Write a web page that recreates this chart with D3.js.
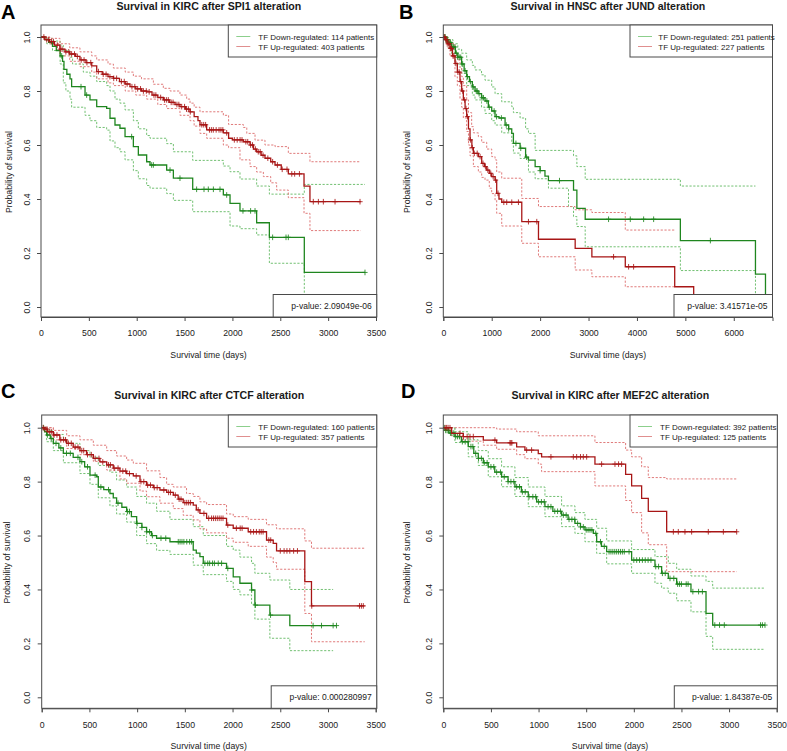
<!DOCTYPE html>
<html><head><meta charset="utf-8">
<script src="https://cdn.jsdelivr.net/npm/d3@7"></script>
<style>
body{margin:0;background:#fff;}
svg{display:block;font-family:"Liberation Sans",Arial,sans-serif;}
</style></head><body>
<svg id="chart" width="787" height="751"></svg>
<script>
// ---------------- DATA ----------------
const panelLetters = ["A", "B", "C", "D"];
const titles = [
  "Survival in KIRC after SPI1 alteration",
  "Survival in HNSC after JUND alteration",
  "Survival in KIRC after CTCF alteration",
  "Survival in KIRC after MEF2C alteration"
];
const legendDown = ["TF Down-regulated: 114 patients", "TF Down-regulated: 251 patients", "TF Down-regulated: 160 patients", "TF Down-regulated: 392 patients"];
const legendUp = ["TF Up-regulated: 403 patients", "TF Up-regulated: 227 patients", "TF Up-regulated: 357 patients", "TF Up-regulated: 125 patients"];
const pValues = ["p-value: 2.09049e-06", "p-value: 3.41571e-05", "p-value: 0.000280997", "p-value: 1.84387e-05"];
const xTicks3500 = [0, 500, 1000, 1500, 2000, 2500, 3000, 3500];
const xTicks6000 = [0, 1000, 2000, 3000, 4000, 5000, 6000];
const yTicks = [0, 0.2, 0.4, 0.6, 0.8, 1.0];
const yAxisTitle = "Probability of survival";
const xAxisTitle = "Survival time (days)";

// Step curves: [time (days), survival probability from that time on]
// Panel A: KIRC / SPI1
const A_downEst = [[0,1],[40,0.99],[80,0.98],[120,0.965],[160,0.95],[200,0.93],[225,0.91],[240,0.88],[270,0.862],[303,0.845],[320,0.816],[460,0.785],[512,0.767],[582,0.742],[686,0.736],[721,0.699],[773,0.674],[825,0.662],[878,0.631],[965,0.594],[1017,0.563],[1104,0.538],[1139,0.526],[1313,0.507],[1383,0.477],[1585,0.436],[1905,0.415],[1975,0.384],[2079,0.356],[2253,0.312],[2386,0.258],[2751,0.128],[3385,0.128]];
const A_downUp = [[0,1],[60,0.995],[120,0.985],[200,0.97],[233,0.95],[300,0.925],[330,0.9],[442,0.87],[512,0.855],[582,0.835],[686,0.82],[721,0.8],[773,0.77],[825,0.755],[878,0.73],[965,0.69],[1017,0.66],[1104,0.635],[1139,0.625],[1313,0.605],[1383,0.575],[1585,0.543],[1905,0.522],[1975,0.501],[2079,0.474],[2253,0.448],[2386,0.418],[2751,0.454],[3385,0.454]];
const A_downLo = [[0,1],[60,0.975],[120,0.95],[200,0.9],[233,0.83],[260,0.8],[303,0.77],[320,0.74],[460,0.71],[512,0.69],[582,0.665],[686,0.655],[721,0.615],[773,0.59],[825,0.575],[878,0.545],[965,0.505],[1017,0.475],[1104,0.45],[1139,0.44],[1313,0.42],[1383,0.395],[1585,0.353],[1975,0.3],[2079,0.29],[2253,0.267],[2386,0.162],[2751,0.02],[3385,0.02]];
const A_downCens = [216,418,477,947,1156,1174,1348,1452,1626,1703,1748,1801,1870,1940,2110,2190,2236,2420,2560,2584,3385];
const A_upEst = [[0,1],[40,0.99],[90,0.983],[140,0.97],[198,0.955],[250,0.945],[300,0.937],[360,0.928],[407,0.915],[470,0.905],[530,0.893],[582,0.872],[640,0.862],[700,0.853],[756,0.847],[820,0.835],[880,0.826],[930,0.816],[990,0.808],[1050,0.8],[1104,0.797],[1160,0.785],[1220,0.776],[1278,0.767],[1340,0.758],[1400,0.75],[1452,0.742],[1510,0.733],[1557,0.723],[1600,0.705],[1640,0.69],[1661,0.675],[1731,0.656],[1905,0.645],[1960,0.625],[2000,0.619],[2114,0.612],[2184,0.6],[2220,0.585],[2253,0.575],[2300,0.562],[2340,0.551],[2400,0.538],[2445,0.526],[2510,0.51],[2584,0.493],[2748,0.448],[2810,0.39],[3340,0.39]];
const A_upUp = [[0,1],[90,0.995],[198,0.975],[300,0.96],[407,0.945],[530,0.93],[582,0.915],[700,0.9],[756,0.885],[880,0.87],[965,0.855],[1050,0.845],[1174,0.825],[1278,0.81],[1348,0.8],[1452,0.785],[1522,0.77],[1557,0.755],[1600,0.74],[1661,0.723],[1905,0.71],[1960,0.676],[2114,0.665],[2150,0.643],[2236,0.618],[2340,0.6],[2445,0.594],[2584,0.569],[2810,0.538],[3340,0.538]];
const A_upLo = [[0,1],[90,0.975],[198,0.93],[300,0.91],[407,0.89],[530,0.87],[582,0.845],[700,0.83],[756,0.82],[880,0.8],[990,0.785],[1104,0.77],[1220,0.75],[1313,0.735],[1452,0.71],[1557,0.69],[1600,0.67],[1661,0.643],[1731,0.625],[1905,0.6],[1960,0.59],[2079,0.545],[2184,0.52],[2253,0.5],[2323,0.483],[2400,0.46],[2462,0.433],[2584,0.405],[2748,0.347],[2810,0.283],[3340,0.283]];
const A_upCens = [30,60,80,110,130,170,200,220,260,290,320,350,380,420,450,480,520,600,650,680,720,760,790,840,870,900,950,980,1010,1040,1070,1100,1130,1180,1200,1250,1290,1310,1330,1360,1380,1420,1440,1470,1500,1520,1540,1560,1680,1700,1720,1760,1780,1800,1830,1860,1880,1900,1940,2020,2050,2080,2100,2140,2160,2190,2210,2240,2270,2290,2320,2370,2420,2470,2520,2570,2620,2650,2700,2845,2898,2950,3072,3333];

// Panel B: HNSC / JUND
const B_downEst = [[0,1],[50,0.99],[100,0.98],[172,0.963],[250,0.94],[300,0.925],[379,0.9],[430,0.875],[483,0.853],[540,0.835],[600,0.815],[655,0.8],[720,0.79],[790,0.775],[862,0.763],[930,0.74],[1000,0.726],[1069,0.705],[1150,0.7],[1276,0.674],[1350,0.66],[1414,0.643],[1448,0.606],[1586,0.588],[1700,0.555],[1759,0.544],[1897,0.52],[2000,0.505],[2100,0.485],[2172,0.468],[2690,0.433],[2759,0.365],[2931,0.325],[4897,0.246],[6448,0.122],[6655,0]];
const B_downUp = [[0,1],[100,0.99],[200,0.975],[300,0.955],[379,0.94],[483,0.915],[600,0.895],[655,0.878],[790,0.86],[862,0.84],[1000,0.815],[1069,0.79],[1207,0.76],[1414,0.742],[1448,0.72],[1586,0.7],[1700,0.66],[1759,0.643],[1897,0.58],[2690,0.56],[2759,0.52],[2931,0.473],[4897,0.448],[6448,0.448]];
const B_downLo = [[0,1],[50,0.98],[100,0.96],[172,0.93],[250,0.9],[379,0.865],[483,0.82],[600,0.785],[655,0.767],[790,0.74],[862,0.717],[1000,0.69],[1069,0.674],[1207,0.645],[1414,0.606],[1448,0.57],[1586,0.55],[1759,0.5],[1897,0.475],[2172,0.44],[2586,0.372],[2690,0.335],[2759,0.298],[2931,0.223],[4897,0.135],[6448,0.01],[6655,0.01]];
const B_downCens = [20,40,60,90,120,150,180,210,240,270,300,330,360,400,450,500,560,620,680,700,740,800,830,900,950,1050,1100,1200,1300,1350,1500,1600,1720,2000,2400,3414,3862,4138,4345,5517];
const B_upEst = [[0,1],[40,0.99],[80,0.975],[138,0.958],[190,0.93],[241,0.902],[290,0.87],[345,0.835],[380,0.8],[414,0.767],[450,0.735],[483,0.705],[520,0.66],[552,0.619],[590,0.59],[621,0.569],[724,0.557],[793,0.532],[850,0.52],[897,0.507],[950,0.495],[1000,0.483],[1069,0.47],[1103,0.421],[1150,0.4],[1207,0.388],[1621,0.316],[1966,0.251],[2724,0.217],[3069,0.186],[3759,0.149],[4780,0.075],[5172,0]];
const B_upUp = [[0,1],[80,0.99],[138,0.975],[241,0.94],[290,0.915],[345,0.885],[380,0.853],[414,0.82],[483,0.767],[520,0.72],[586,0.668],[621,0.645],[724,0.631],[793,0.61],[897,0.585],[1000,0.557],[1069,0.545],[1103,0.5],[1207,0.477],[1621,0.402],[1966,0.372],[2724,0.36],[3069,0.35],[3759,0.285],[4780,0.285]];
const B_upLo = [[0,1],[80,0.96],[138,0.93],[241,0.853],[290,0.82],[345,0.77],[379,0.74],[414,0.7],[483,0.65],[520,0.6],[552,0.56],[621,0.52],[724,0.5],[793,0.48],[862,0.47],[950,0.44],[1000,0.42],[1069,0.396],[1103,0.347],[1207,0.3],[1621,0.236],[1966,0.186],[2724,0.137],[3069,0.112],[3759,0.075],[4780,0.075]];
const B_upCens = [10,30,50,70,100,120,150,170,200,220,260,300,330,360,400,440,470,500,560,600,640,700,760,820,870,920,980,1030,1080,1130,1250,1310,1414,1552,1759,1931,3517,3828,3931];

// Panel C: KIRC / CTCF
const C_downEst = [[0,1],[30,0.985],[52,0.973],[90,0.96],[122,0.942],[180,0.925],[227,0.905],[330,0.89],[401,0.874],[450,0.855],[506,0.824],[576,0.818],[593,0.78],[650,0.77],[715,0.756],[750,0.74],[785,0.72],[840,0.705],[890,0.689],[940,0.67],[995,0.645],[1050,0.63],[1099,0.614],[1150,0.6],[1204,0.59],[1344,0.577],[1588,0.546],[1620,0.535],[1658,0.522],[1693,0.497],[1937,0.478],[2007,0.447],[2077,0.423],[2199,0.398],[2234,0.342],[2391,0.305],[2600,0.266],[3089,0.266]];
const C_downUp = [[0,1],[52,0.99],[122,0.975],[227,0.955],[262,0.942],[401,0.915],[506,0.89],[593,0.86],[715,0.835],[785,0.806],[890,0.78],[995,0.745],[1099,0.72],[1204,0.69],[1344,0.66],[1588,0.633],[1693,0.6],[1937,0.56],[2007,0.546],[2077,0.52],[2199,0.497],[2234,0.46],[2391,0.435],[2600,0.4],[3054,0.4]];
const C_downLo = [[0,1],[52,0.948],[122,0.915],[227,0.87],[401,0.83],[506,0.79],[593,0.74],[715,0.71],[785,0.68],[890,0.65],[995,0.6],[1099,0.57],[1204,0.545],[1344,0.53],[1588,0.49],[1693,0.455],[1937,0.43],[2007,0.4],[2077,0.38],[2199,0.345],[2234,0.29],[2391,0.219],[2600,0.173],[3054,0.173]];
const C_downCens = [20,60,100,150,200,260,300,380,420,480,560,620,700,800,900,920,1000,1050,1100,1130,1160,1250,1300,1431,1450,1470,1490,1520,1550,1571,1710,1740,1760,1790,1810,1850,1885,1950,2200,2240,2398,2844,2932,3054,3089];
const C_upEst = [[0,1],[30,0.995],[60,0.985],[122,0.973],[190,0.955],[262,0.942],[330,0.928],[401,0.915],[470,0.9],[541,0.886],[610,0.873],[681,0.862],[750,0.85],[820,0.839],[890,0.83],[960,0.821],[1030,0.8],[1099,0.787],[1170,0.778],[1239,0.769],[1310,0.76],[1379,0.75],[1430,0.735],[1483,0.722],[1588,0.713],[1620,0.695],[1658,0.682],[1728,0.664],[1937,0.639],[2007,0.627],[2164,0.614],[2356,0.583],[2426,0.571],[2461,0.543],[2757,0.429],[2827,0.339],[3385,0.339]];
const C_upUp = [[0,1],[122,0.99],[262,0.97],[401,0.955],[541,0.935],[681,0.915],[785,0.895],[890,0.88],[960,0.868],[1099,0.84],[1239,0.815],[1309,0.79],[1379,0.78],[1518,0.756],[1588,0.745],[1658,0.725],[1728,0.715],[1937,0.68],[2007,0.67],[2164,0.66],[2356,0.64],[2461,0.625],[2757,0.58],[2827,0.553],[3385,0.553]];
const C_upLo = [[0,1],[122,0.955],[262,0.923],[401,0.9],[541,0.875],[681,0.843],[820,0.81],[890,0.794],[1030,0.765],[1099,0.744],[1239,0.72],[1379,0.7],[1483,0.675],[1588,0.658],[1658,0.625],[1728,0.61],[1937,0.59],[2007,0.575],[2164,0.56],[2356,0.52],[2426,0.5],[2461,0.475],[2757,0.311],[2827,0.206],[3385,0.206]];
const C_upCens = [15,35,55,80,100,130,160,200,230,250,280,310,350,380,420,440,480,520,560,600,640,700,720,760,800,850,880,920,990,1040,1070,1110,1140,1180,1210,1280,1330,1350,1400,1440,1460,1500,1520,1540,1560,1640,1700,1750,1780,1800,1820,1840,1860,1880,1900,1950,2040,2080,2100,2190,2220,2250,2280,2300,2320,2380,2400,2500,2540,2570,2600,2640,2680,2830,3330,3350,3370];

// Panel D: KIRC / MEF2C
const D_downEst = [[0,1],[20,0.99],[60,0.98],[122,0.967],[190,0.948],[262,0.93],[320,0.905],[367,0.886],[420,0.87],[472,0.855],[540,0.835],[612,0.818],[680,0.8],[752,0.781],[820,0.762],[892,0.744],[980,0.725],[1067,0.707],[1150,0.69],[1242,0.676],[1310,0.66],[1382,0.645],[1440,0.632],[1487,0.621],[1575,0.608],[1610,0.577],[1660,0.56],[1715,0.54],[1977,0.509],[2222,0.485],[2292,0.46],[2362,0.441],[2450,0.42],[2600,0.392],[2758,0.311],[2828,0.268],[3377,0.268]];
const D_downUp = [[0,1],[122,0.985],[262,0.955],[367,0.915],[472,0.885],[612,0.855],[752,0.815],[892,0.78],[1067,0.745],[1242,0.71],[1382,0.685],[1487,0.66],[1610,0.627],[1715,0.58],[1977,0.548],[2222,0.522],[2362,0.497],[2450,0.475],[2600,0.45],[2758,0.43],[2828,0.405],[3377,0.405]];
const D_downLo = [[0,1],[122,0.945],[262,0.892],[367,0.86],[472,0.818],[612,0.781],[752,0.745],[892,0.707],[1067,0.67],[1242,0.633],[1382,0.608],[1487,0.577],[1610,0.534],[1715,0.495],[1977,0.46],[2222,0.423],[2292,0.405],[2362,0.386],[2450,0.358],[2600,0.317],[2758,0.226],[2828,0.178],[3377,0.178]];
const D_downCens = [10,25,40,55,75,90,110,130,150,170,200,230,260,290,310,340,370,400,430,460,500,530,560,600,640,680,710,740,770,800,830,860,900,940,970,1000,1030,1060,1100,1130,1170,1200,1230,1260,1290,1320,1350,1380,1410,1440,1470,1500,1520,1540,1560,1600,1650,1690,1740,1760,1780,1800,1820,1840,1860,1880,1900,1950,2000,2030,2060,2090,2120,2150,2180,2230,2260,2300,2330,2380,2420,2460,2480,2500,2550,2570,2620,2680,2720,2850,2900,2950,3330,3350,3377];
const D_upEst = [[0,1],[87,0.979],[210,0.967],[420,0.954],[560,0.944],[770,0.929],[857,0.917],[997,0.904],[1032,0.892],[1592,0.865],[1914,0.827],[1977,0.784],[2082,0.738],[2152,0.69],[2345,0.614],[3080,0.614]];
const D_upUp = [[0,1],[560,0.995],[770,0.985],[997,0.97],[1592,0.945],[1914,0.917],[1977,0.892],[2082,0.855],[2152,0.815],[2345,0.81],[3080,0.81]];
const D_upLo = [[0,1],[87,0.97],[210,0.95],[420,0.935],[560,0.92],[770,0.9],[857,0.885],[997,0.865],[1032,0.837],[1592,0.784],[1914,0.73],[1977,0.685],[2082,0.61],[2152,0.566],[2345,0.466],[3080,0.466]];
const D_upCens = [20,35,50,70,175,210,250,280,315,542,700,710,720,875,927,1130,1365,1400,1440,1470,1505,1662,1802,1840,1872,2415,2467,2537,2607,2782,2940,3080];

// ---------------- LAYOUT ----------------
const panels = [
  {box:[41, 376.7, 25, 317], yr:[307, 37], xr:[41, 376], xmax:3500, ticks:xTicks3500, letter:[1, 19], titleY:9.5, ylabX:11.5, lw:148.4, lt:30, pw:103.5,
   down:[A_downEst, A_downUp, A_downLo, A_downCens], up:[A_upEst, A_upUp, A_upLo, A_upCens]},
  {box:[443.3, 772.5, 25, 317], yr:[307, 37], xr:[443.3, 772.5], xmax:6800, ticks:xTicks6000, letter:[399, 19], titleY:9.5, ylabX:409.8, lw:142.5, lt:28.3, pw:98.5,
   down:[B_downEst, B_downUp, B_downLo, B_downCens], up:[B_upEst, B_upUp, B_upLo, B_upCens]},
  {box:[41.7, 376.7, 415, 708.3], yr:[697.3, 427.7], xr:[41.7, 375.7], xmax:3500, ticks:xTicks3500, letter:[1, 398], titleY:398.5, ylabX:9.5, lw:148.4, lt:30, pw:105.5,
   down:[C_downEst, C_downUp, C_downLo, C_downCens], up:[C_upEst, C_upUp, C_upLo, C_upCens]},
  {box:[443.3, 777.3, 415, 708.3], yr:[697.3, 427.7], xr:[443.3, 776.7], xmax:3500, ticks:xTicks3500, letter:[401, 398], titleY:398.5, ylabX:409.5, lw:147.3, lt:30, pw:103,
   down:[D_downEst, D_downUp, D_downLo, D_downCens], up:[D_upEst, D_upUp, D_upLo, D_upCens]}
];

const COL = {
  downEst: "#1f861f", downCI: "#72c072", downLeg: "#8ccf8c",
  upEst: "#a81616", upCI: "#e07b7b", upLeg: "#e08f8f",
  axis: "#4a4a4a", text: "#1a1a1a"
};

const svg = d3.select("#chart");
const bis = d3.bisector(d => d[0]).right;
function stepValue(steps, t) {
  const i = bis(steps, t) - 1;
  return steps[Math.max(0, i)][1];
}

panels.forEach((p, k) => {
  const [bl, br, bt, bb] = p.box;
  const x = d3.scaleLinear().domain([0, p.xmax]).range(p.xr);
  const y = d3.scaleLinear().domain([0, 1]).range(p.yr);
  const g = svg.append("g");

  const clipId = "clip" + k;
  svg.append("clipPath").attr("id", clipId)
    .append("rect").attr("x", bl).attr("y", bt).attr("width", br - bl).attr("height", bb - bt);

  // letter & title
  g.append("text").attr("x", p.letter[0]).attr("y", p.letter[1])
    .attr("font-family", "'Liberation Sans', Arial, sans-serif").attr("font-weight", 700)
    .attr("font-size", 20).attr("fill", "#000").text(panelLetters[k]);
  g.append("text").attr("x", (bl + br) / 2).attr("y", p.titleY).attr("text-anchor", "middle")
    .attr("font-weight", 700).attr("font-size", 10.6).attr("fill", COL.text).text(titles[k]);

  // axes
  const xa = g.append("g").attr("transform", `translate(0,${bb})`)
    .call(d3.axisBottom(x).tickValues(p.ticks).tickSize(4).tickFormat(d3.format("d")));
  xa.select(".domain").attr("stroke", COL.axis);
  xa.selectAll(".tick line").attr("stroke", COL.axis);
  xa.selectAll("text").attr("y", 19.3).attr("dy", 0).attr("font-size", 8.7).attr("fill", COL.text)
    .attr("font-family", "'Liberation Sans', Arial, sans-serif");

  const ya = g.append("g").attr("transform", `translate(${bl},0)`)
    .call(d3.axisLeft(y).tickValues(yTicks).tickSize(4).tickFormat(d3.format(".1f")));
  ya.select(".domain").remove();
  ya.selectAll(".tick line").attr("stroke", COL.axis);
  ya.selectAll("text").attr("x", 0).attr("dy", 0).attr("text-anchor", "middle")
    .attr("transform", "translate(-11.3,0) rotate(-90)")
    .attr("font-size", 8.7).attr("fill", COL.text)
    .attr("font-family", "'Liberation Sans', Arial, sans-serif");

  g.append("text").attr("transform", `translate(${p.ylabX},${(p.yr[0] + p.yr[1]) / 2}) rotate(-90)`)
    .attr("text-anchor", "middle").attr("font-size", 8.7).attr("fill", COL.text).text(yAxisTitle);
  g.append("text").attr("x", (p.xr[0] + p.xr[1]) / 2).attr("y", bb + 40.5)
    .attr("text-anchor", "middle").attr("font-size", 8.7).attr("fill", COL.text).text(xAxisTitle);

  // curves
  const line = d3.line().x(d => x(d[0])).y(d => y(d[1])).curve(d3.curveStepAfter);
  const cg = g.append("g").attr("clip-path", `url(#${clipId})`);
  const groups = [
    {d: p.down, est: COL.downEst, ci: COL.downCI},
    {d: p.up, est: COL.upEst, ci: COL.upCI}
  ];
  groups.forEach(gr => {
    [gr.d[1], gr.d[2]].forEach(ci => {
      cg.append("path").attr("d", line(ci)).attr("fill", "none")
        .attr("stroke", gr.ci).attr("stroke-width", 1).attr("stroke-dasharray", "2.2,1.6");
    });
  });
  groups.forEach(gr => {
    cg.append("path").attr("d", line(gr.d[0])).attr("fill", "none")
      .attr("stroke", gr.est).attr("stroke-width", 1.3);
    const cens = gr.d[3];
    cg.append("path").attr("fill", "none").attr("stroke", gr.est).attr("stroke-width", 1)
      .attr("stroke-opacity", 0.85)
      .attr("d", cens.map(t => {
        const cx = x(t), cy = y(stepValue(gr.d[0], t));
        return `M${cx - 2.6},${cy}h5.2M${cx},${cy - 2.8}v5.6`;
      }).join(""));
  });

  // box
  g.append("rect").attr("x", bl).attr("y", bt).attr("width", br - bl).attr("height", bb - bt)
    .attr("fill", "none").attr("stroke", COL.axis).attr("stroke-width", 1);

  // legend
  const lw = p.lw, lh = 32;
  const lx = br - lw;
  const lg = g.append("g");
  lg.append("rect").attr("x", lx).attr("y", bt).attr("width", lw).attr("height", lh)
    .attr("fill", "#fff").attr("stroke", COL.axis).attr("stroke-width", 1);
  [[legendDown[k], COL.downLeg], [legendUp[k], COL.upLeg]].forEach((it, i) => {
    const ly = bt + 11.5 + i * 10;
    lg.append("line").attr("x1", lx + 8).attr("x2", lx + 22).attr("y1", ly).attr("y2", ly)
      .attr("stroke", it[1]).attr("stroke-width", 1);
    lg.append("text").attr("x", lx + p.lt).attr("y", ly + 3).attr("font-size", 8)
      .attr("fill", COL.text).text(it[0]);
  });

  // p-value box
  const pw = p.pw, ph = 22.5;
  g.append("rect").attr("x", br - pw).attr("y", bb - ph).attr("width", pw).attr("height", ph)
    .attr("fill", "#fff").attr("stroke", COL.axis).attr("stroke-width", 1);
  g.append("text").attr("x", br - 5).attr("y", bb - ph / 2 + 3).attr("text-anchor", "end")
    .attr("font-size", 8.5).attr("fill", COL.text).text(pValues[k]);
});
</script>
</body></html>
